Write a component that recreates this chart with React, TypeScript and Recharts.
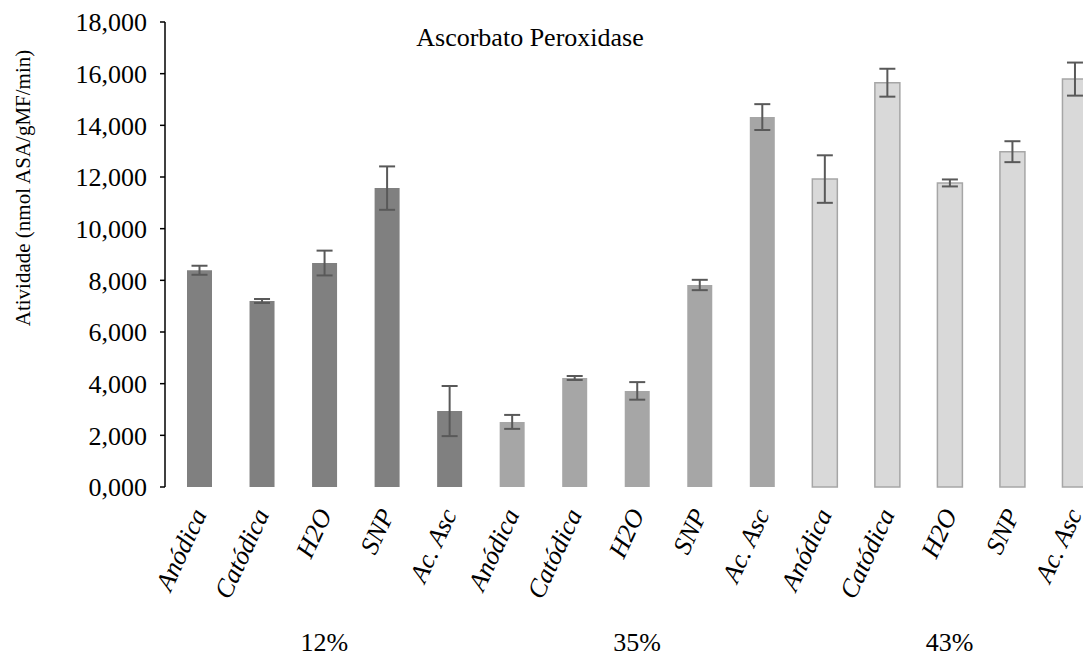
import React from "react";
import { BarChart, Bar, XAxis, YAxis, ErrorBar, Cell, Label } from "recharts";

const treatments = ["Anódica", "Catódica", "H2O", "SNP", "Ac. Asc"];
const groups = ["12%", "35%", "43%"];

// médias e desvios por grupo (nmol ASA/gMF/min)
const values12 = [8390, 7200, 8670, 11570, 2940];
const errors12 = [175, 77, 480, 840, 970];
const values35 = [2520, 4220, 3720, 7820, 14320];
const errors35 = [270, 77, 340, 200, 500];
const values43 = [11920, 15650, 11770, 12980, 15790];
const errors43 = [920, 540, 135, 405, 640];

const yTicks = [0, 2000, 4000, 6000, 8000, 10000, 12000, 14000, 16000, 18000];
const yTickLabels = ["0,000", "2,000", "4,000", "6,000", "8,000", "10,000", "12,000", "14,000", "16,000", "18,000"];

const groupFills = ["#808080", "#a6a6a6", "#d9d9d9"];
const groupStrokes = ["none", "none", "#a6a6a6"];

const seriesValues = [values12, values35, values43];
const seriesErrors = [errors12, errors35, errors43];

const data = groups.flatMap((g, gi) =>
  treatments.map((t, ti) => ({
    key: `${g}-${t}`,
    group: gi,
    label: t,
    value: seriesValues[gi][ti],
    err: seriesErrors[gi][ti],
  }))
);

const FONT = "'Liberation Serif', 'Times New Roman', serif";

function CategoryTick({ x, y, index }: any) {
  const row = data[index];
  if (!row) return null;
  return (
    <g transform={`translate(${x},${y})`}>
      <text
        x={8}
        y={27}
        textAnchor="end"
        transform="rotate(-65, 8, 27)"
        fontFamily={FONT}
        fontStyle="italic"
        fontSize={26}
        fill="#000"
      >
        {row.label}
      </text>
      {index % 5 === 2 && (
        <text x={0} y={164} textAnchor="middle" fontFamily={FONT} fontSize={26} fill="#000">
          {groups[row.group]}
        </text>
      )}
    </g>
  );
}

function AxisTitle() {
  return (
    <text
      x={23}
      y={188}
      transform="rotate(-90, 23, 188)"
      textAnchor="middle"
      dominantBaseline="central"
      fontFamily={FONT}
      fontSize={21}
      fill="#000"
    >
      Atividade (nmol ASA/gMF/min)
    </text>
  );
}

export default function App() {
  return (
    <div
      style={{
        position: "absolute",
        left: 0,
        top: 0,
        width: 1083,
        height: 659,
        overflow: "hidden",
        background: "#fff",
      }}
    >
      <div
        style={{
          position: "absolute",
          left: 530,
          top: 25,
          transform: "translateX(-50%)",
          fontFamily: FONT,
          fontSize: 26,
          lineHeight: "26px",
          whiteSpace: "nowrap",
          color: "#000",
        }}
      >
        Ascorbato Peroxidase
      </div>
      <BarChart
        width={1106}
        height={659}
        data={data}
        margin={{ top: 22, right: 0, bottom: 0, left: 0 }}
        barSize={25}
      >
        <XAxis
          dataKey="key"
          interval={0}
          height={172}
          axisLine={false}
          tickLine={false}
          tickSize={0}
          tickMargin={0}
          padding={{ left: 3, right: 0 }}
          tick={<CategoryTick />}
        />
        <YAxis
          width={165}
          domain={[0, 18000]}
          ticks={yTicks}
          tickFormatter={(v: number) => yTickLabels[yTicks.indexOf(v)]}
          axisLine={{ stroke: "#000", strokeWidth: 1.5 }}
          tickLine={{ stroke: "#000", strokeWidth: 1.5 }}
          tickSize={5}
          tickMargin={13}
          tick={{ fontFamily: FONT, fontSize: 26, fill: "#000" }}
        >
          <Label content={<AxisTitle />} />
        </YAxis>
        <Bar dataKey="value" isAnimationActive={false}>
          {data.map((d, i) => (
            <Cell
              key={`cell-${i}`}
              fill={groupFills[d.group]}
              stroke={groupStrokes[d.group]}
              strokeWidth={1.5}
            />
          ))}
          <ErrorBar
            dataKey="err"
            direction="y"
            width={8}
            stroke="#595959"
            strokeWidth={2}
            isAnimationActive={false}
          />
        </Bar>
      </BarChart>
    </div>
  );
}
